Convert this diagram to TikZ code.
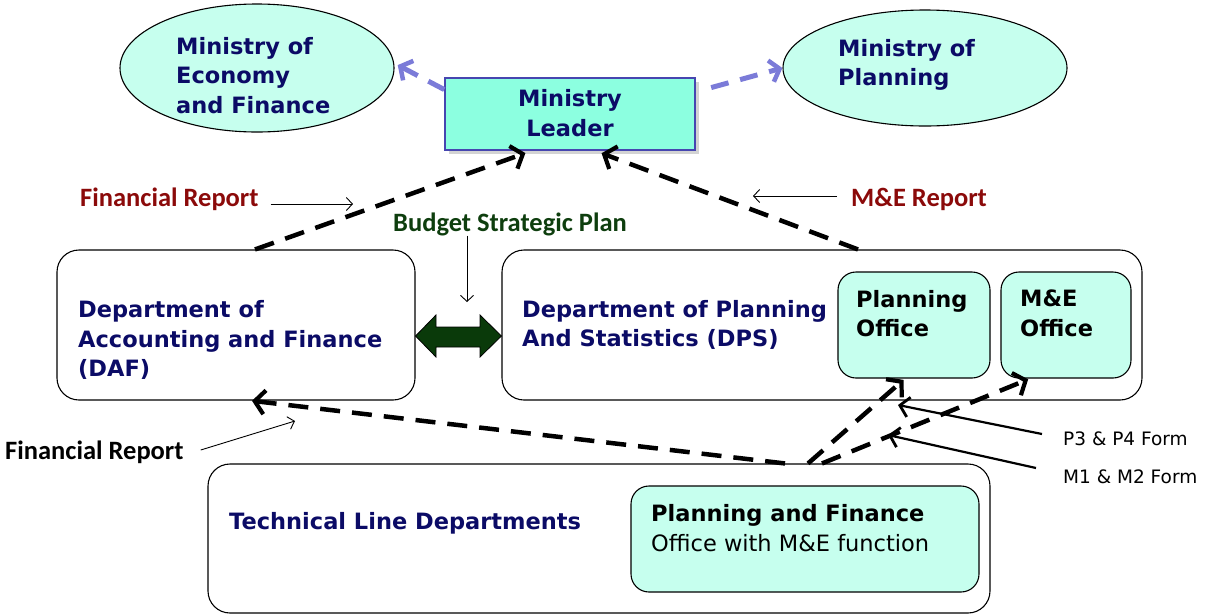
\documentclass[tikz,border=0pt]{standalone}
\usepackage{fontspec}
\setmainfont{DejaVu Sans}
\newfontfamily\labelfont{Carlito}
\usetikzlibrary{arrows.meta,calc,shadows,shapes.geometric}
\definecolor{navytext}{HTML}{0B0B66}
\definecolor{mint}{HTML}{C6FFEE}
\definecolor{aqua}{HTML}{8CFFE0}
\definecolor{mlborder}{HTML}{4646B0}
\definecolor{reportred}{HTML}{8B0A0A}
\definecolor{budgetgreen}{HTML}{0E3E0E}
\definecolor{arrowgreen}{HTML}{0A3A0A}
\definecolor{lilac}{HTML}{7B7BD8}
\tikzset{
  ministry/.style={ellipse, draw=black, line width=1.1pt, fill=mint, inner sep=0pt},
  deptbox/.style={rectangle, rounded corners=22pt, draw=black, line width=1.1pt, inner sep=0pt},
  officebox/.style={rectangle, rounded corners=18pt, draw=black, line width=1.1pt, fill=mint, inner sep=0pt},
  bigtext/.style={font=\fontsize{22.5}{29.5}\selectfont\bfseries, text=navytext, align=left, inner sep=0pt, anchor=west},
  officetext/.style={font=\fontsize{22.5}{29.5}\selectfont\bfseries, text=black, align=left, inner sep=0pt, anchor=west},
  replabel/.style={font=\labelfont\fontsize{26.5}{30}\selectfont\bfseries, inner sep=0pt},
  formlabel/.style={font=\fontsize{18.5}{22}\selectfont, text=black, inner sep=0pt, anchor=west},
  flowarrow/.style={draw=black, line width=4.5pt, dash pattern=on 20pt off 12pt, -{Straight Barb[length=10pt, width=24pt, line width=4.2pt]}},
  outarrow/.style={draw=lilac, line width=5pt, dash pattern=on 18pt off 12pt, -{Straight Barb[length=9pt, width=22pt, line width=4.5pt]}},
  pointer/.style={draw=black, line width=0.9pt, -{Straight Barb[length=6pt, width=13pt]}},
  formpointer/.style={draw=black, line width=2.2pt, -{Straight Barb[length=9pt, width=20pt, line width=2.8pt]}},
}
\begin{document}
\begin{tikzpicture}[x=1pt, y=-1pt]
\useasboundingbox (0,0) rectangle (1207,614);

% top row
\node[ministry, minimum width=274pt, minimum height=128pt] (mef) at (257,68) {};
\node[bigtext] (meft) at (176,75.5) {Ministry of\\Economy\\and Finance};
\node[ministry, minimum width=284pt, minimum height=116pt] (mp) at (925,68) {};
\node[bigtext] (mpt) at (838,65) {Ministry of\\Planning};
\node[rectangle, draw=mlborder, line width=1.5pt, fill=aqua, minimum width=250pt, minimum height=72pt, inner sep=0pt,
      drop shadow={shadow xshift=4pt, shadow yshift=-4pt, opacity=0.35}] (ml) at (570,114) {};
\node[font=\fontsize{22.5}{29.5}\selectfont\bfseries, text=navytext, align=center, inner sep=0pt] (mlt) at (570,113) {Ministry\\Leader};

% departments
\node[deptbox, minimum width=358pt, minimum height=150pt] (daf) at (236,325) {};
\node[bigtext] (daft) at (78,340) {Department of\\Accounting and Finance\\(DAF)};
\node[deptbox, minimum width=640pt, minimum height=150pt] (dps) at (822,325) {};
\node[bigtext] (dpst) at (522,325) {Department of Planning\\And Statistics (DPS)};
\node[officebox, minimum width=152pt, minimum height=106pt] (po) at (914,325) {};
\node[officetext] (pot) at (856,313.5) {Planning\\Office};
\node[officebox, minimum width=130pt, minimum height=106pt] (meo) at (1066,325) {};
\node[officetext] (meot) at (1020,313.5) {M\&E\\Office};

% technical line departments
\node[deptbox, minimum width=782pt, minimum height=149pt] (tld) at (599,538.5) {};
\node[bigtext] (tldt) at (229,523) {Technical Line Departments};
\node[officebox, minimum width=348pt, minimum height=106pt] (pf) at (805,539) {};
\node[font=\fontsize{22.5}{29.5}\selectfont, align=left, inner sep=0pt, anchor=west] (pft) at (651,528)
  {\textbf{Planning and Finance}\\Office with M\&E function};

% double arrow between DAF and DPS
\filldraw[fill=arrowgreen, draw=black, line width=0.8pt]
  (daf.east |- 0,336) -- (436,315) -- (436,327) -- (480,327) -- (480,315) -- (dps.west |- 0,336)
  -- (480,357) -- (480,347) -- (436,347) -- (436,357) -- cycle;

% labels
\node[replabel, text=reportred, anchor=west] (fr1) at (80,199) {Financial Report};
\node[replabel, text=reportred, anchor=west] (mer) at (851,199) {M\&E Report};
\node[replabel, text=budgetgreen] (bsp) at (510,224) {Budget Strategic Plan};
\node[replabel, text=black, anchor=west] (fr2) at (5,452) {Financial Report};
\node[formlabel] (p34) at (1063,439) {P3 \& P4 Form};
\node[formlabel] (m12) at (1063,477) {M1 \& M2 Form};

\coordinate (fr1tip) at (353,204);
\coordinate (mertip) at (753,196);
\coordinate (bsptip) at (467,302);
\coordinate (fr2tip) at (295,421);
\coordinate (p34tip) at (898,405);
\coordinate (m12tip) at (888,435);

% outward arrows to ministries
\draw[outarrow, shorten >=4pt] (ml.169) -- (mef.2);
\draw[outarrow, shorten <=16pt] (ml.10) -- (mp.west);

% reports to ministry leader
\draw[flowarrow, shorten >=7pt] ($(daf.north)+(19,0)$) -- ($(ml.south)+(-38,0)$);
\draw[flowarrow, shorten >=7pt] ($(dps.north)+(36,0)$) -- ($(ml.south)+(25,0)$);

% from technical line departments
\draw[flowarrow, shorten >=2pt] ($(tld.north)+(186,0)$) -- ($(daf.south)+(14,0)$);
\draw[flowarrow, shorten >=2pt] ($(tld.north)+(209,0)$) -- ($(po.south)+(-9,0)$);
\draw[flowarrow, shorten >=2pt] ($(tld.north)+(223,0)$) -- ($(meo.south)+(-36,0)$);

% pointers
\draw[pointer] ($(fr1.east)+(12,5)$) -- (fr1tip);
\draw[pointer] ($(mer.west)+(-14,-3)$) -- (mertip);
\draw[pointer] ($(bsp.south)+(-43,0)$) -- (bsptip);
\draw[pointer] ($(fr2.east)+(17,-2)$) -- (fr2tip);
\draw[formpointer] ($(p34.west)+(-21,-5)$) -- (p34tip);
\draw[formpointer] ($(m12.west)+(-27,-9)$) -- (m12tip);
\end{tikzpicture}
\end{document}
